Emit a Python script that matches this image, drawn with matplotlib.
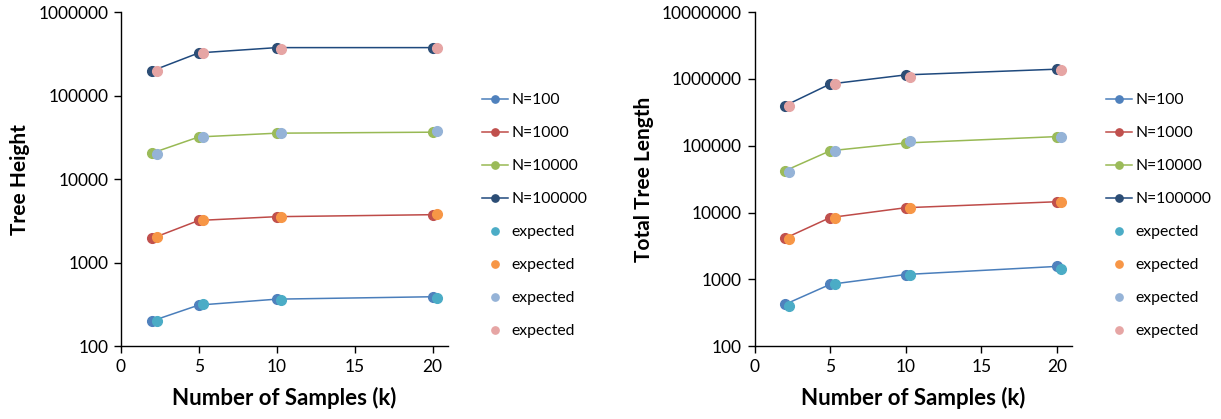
import matplotlib
matplotlib.use("Agg")
import matplotlib.pyplot as plt
from matplotlib.ticker import FixedLocator, FuncFormatter, NullLocator

plt.rcParams['font.family'] = ['Lato', 'DejaVu Sans']

# ---- data ----
k = [2, 5, 10, 20]
k_expected = [2.3, 5.3, 10.3, 20.3]
series_labels = ["N=100", "N=1000", "N=10000", "N=100000"]

height_obs = [
    [200, 310, 365, 390],
    [1950, 3200, 3550, 3750],
    [20500, 32000, 35500, 36500],
    [198000, 325000, 376000, 376000],
]
height_exp = [
    [200, 320, 360, 375],
    [2000, 3200, 3550, 3800],
    [20000, 32000, 36000, 38000],
    [200000, 325000, 360000, 375000],
]

length_obs = [
    [420, 840, 1180, 1560],
    [4100, 8400, 11800, 14500],
    [42000, 84000, 110000, 137000],
    [396000, 840000, 1150000, 1400000],
]
length_exp = [
    [400, 840, 1170, 1450],
    [4000, 8400, 11800, 14500],
    [40000, 84000, 118000, 137000],
    [400000, 840000, 1070000, 1380000],
]

line_colors = ["#4A7EBB", "#BE4B48", "#98B954", "#1F497D"]
marker_colors = ["#4F81BD", "#C0504D", "#9BBB59", "#2C4D75"]
expected_colors = ["#4BACC6", "#F79646", "#95B3D7", "#E6A5A4"]


def draw_panel(ax, obs, exp, ylabel, yticks):
    handles = []
    for i in range(4):
        h, = ax.plot(k, obs[i], color=line_colors[i], lw=1.1, marker='o',
                     markersize=7, markerfacecolor=marker_colors[i],
                     markeredgecolor=marker_colors[i], label=series_labels[i])
        handles.append(h)
    for i in range(4):
        h, = ax.plot(k_expected, exp[i], ls='none', marker='o', markersize=7,
                     markerfacecolor=expected_colors[i],
                     markeredgecolor=expected_colors[i], label="expected")
        handles.append(h)

    ax.set_yscale('log')
    ax.set_ylim(yticks[0], yticks[-1])
    ax.set_xlim(0, 21)
    ax.yaxis.set_major_locator(FixedLocator(yticks))
    ax.yaxis.set_minor_locator(NullLocator())
    ax.yaxis.set_major_formatter(FuncFormatter(lambda v, p: "%d" % round(v)))
    ax.set_xticks([0, 5, 10, 15, 20])
    for s in ['top', 'right']:
        ax.spines[s].set_visible(False)
    for s in ['left', 'bottom']:
        ax.spines[s].set_linewidth(1.0)
    ax.tick_params(axis='both', labelsize=12.5, direction='out', length=5, width=1.0, pad=4)
    ax.set_xlabel("Number of Samples (k)", fontsize=16, fontweight='bold', labelpad=9)
    ax.set_ylabel(ylabel, fontsize=15, fontweight='bold', labelpad=6)
    return handles


fig = plt.figure(figsize=(12.21, 4.19), dpi=100)
ax1 = fig.add_axes([0.099, 0.174, 0.268, 0.797])
ax2 = fig.add_axes([0.618, 0.174, 0.260, 0.797])

h1 = draw_panel(ax1, height_obs, height_exp, "Tree Height",
                [100, 1000, 10000, 100000, 1000000])
h2 = draw_panel(ax2, length_obs, length_exp, "Total Tree Length",
                [100, 1000, 10000, 100000, 1000000, 10000000])

for handles, x0 in [(h1, 0.390), (h2, 0.901)]:
    fig.legend(handles=handles, loc='upper left', bbox_to_anchor=(x0, 0.792),
               frameon=False, fontsize=11.3, labelspacing=1.21, markerscale=0.75,
               handlelength=1.65, handletextpad=0.2, borderaxespad=0)

fig.savefig("out.png", dpi=100)
